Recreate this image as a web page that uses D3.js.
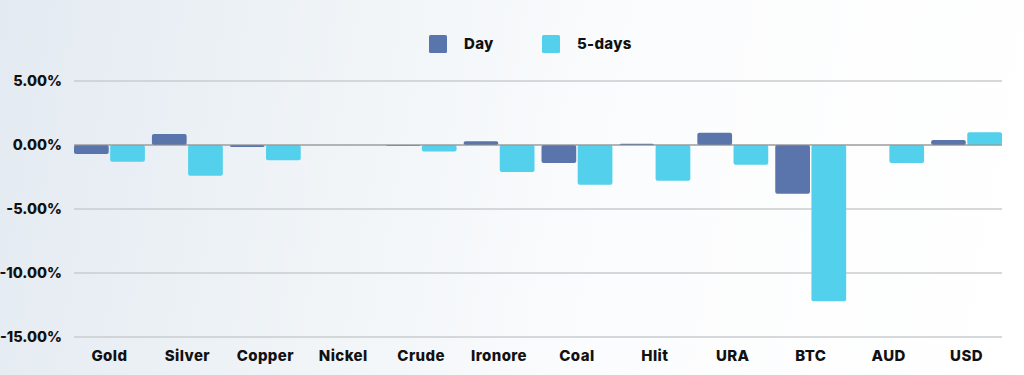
<!DOCTYPE html>
<html>
<head>
<meta charset="utf-8">
<script src="https://cdn.jsdelivr.net/npm/d3@7"></script>
<style>
  html, body { margin: 0; padding: 0; }
  body {
    width: 1024px;
    height: 375px;
    overflow: hidden;
    background: linear-gradient(100deg, #e3eaf1 0%, #f1f5f8 35%, #fbfcfd 60%, #ffffff 100%);
    font-family: Inter, "Noto Sans", sans-serif;
  }
</style>
</head>
<body>
<svg id="chart" width="1024" height="375"></svg>
<script>
const categories = ["Gold", "Silver", "Copper", "Nickel", "Crude", "Ironore", "Coal", "Hlit", "URA", "BTC", "AUD", "USD"];
const dayValues = [-0.7, 0.85, -0.15, 0, -0.05, 0.3, -1.4, 0.1, 0.95, -3.8, 0, 0.4];
const fiveDayValues = [-1.3, -2.4, -1.2, 0, -0.5, -2.1, -3.1, -2.8, -1.55, -12.2, -1.4, 1.0];
const seriesNames = ["Day", "5-days"];
const yTicks = [5, 0, -5, -10, -15];

const colors = ["#5a75ac", "#53d0eb"];

const svg = d3.select("#chart");
const margin = { left: 74, right: 22, top: 81, bottom: 38 };
const width = 1024, height = 375;

const x = d3.scaleBand()
  .domain(categories)
  .range([margin.left, width - margin.right])
  .paddingInner(0.09)
  .paddingOuter(0.0);

const xSub = d3.scaleBand()
  .domain(seriesNames)
  .range([0, x.bandwidth()])
  .paddingInner(0.04);

const y = d3.scaleLinear()
  .domain([-15, 5])
  .range([height - margin.bottom, margin.top]);

// gridlines
svg.append("g")
  .selectAll("line")
  .data(yTicks)
  .join("line")
  .attr("x1", margin.left)
  .attr("x2", width - margin.right)
  .attr("y1", d => y(d))
  .attr("y2", d => y(d))
  .attr("stroke", "#c9cccf")
  .attr("stroke-width", 1.3);

// y axis labels
svg.append("g")
  .selectAll("text")
  .data(yTicks)
  .join("text")
  .attr("x", 62)
  .attr("y", d => y(d))
  .attr("dy", "0.35em")
  .attr("text-anchor", "end")
  .attr("font-size", 14.5)
  .attr("font-weight", 800)
  .attr("fill", "#111")
  .text(d => d.toFixed(2) + "%");

// bars
const rows = categories.map((c, i) => ({ cat: c, vals: [dayValues[i], fiveDayValues[i]] }));

const groups = svg.append("g")
  .selectAll("g")
  .data(rows)
  .join("g")
  .attr("transform", d => `translate(${x(d.cat)},0)`);

groups.selectAll("rect")
  .data(d => d.vals.map((v, j) => ({ name: seriesNames[j], value: v, j })))
  .join("rect")
  .attr("x", d => xSub(d.name))
  .attr("width", xSub.bandwidth())
  .attr("y", d => y(Math.max(0, d.value)))
  .attr("height", d => Math.abs(y(d.value) - y(0)))
  .attr("rx", 2)
  .attr("fill", d => colors[d.j]);

// zero line on top
svg.append("line")
  .attr("x1", margin.left)
  .attr("x2", width - margin.right)
  .attr("y1", y(0))
  .attr("y2", y(0))
  .attr("stroke", "#8f8f8f")
  .attr("stroke-width", 1.2);

// x labels
svg.append("g")
  .selectAll("text")
  .data(categories)
  .join("text")
  .attr("x", d => x(d) + x.bandwidth() / 2)
  .attr("y", 356)
  .attr("dy", "0.35em")
  .attr("text-anchor", "middle")
  .attr("font-size", 15)
  .attr("font-weight", 800)
  .attr("letter-spacing", 0.4)
  .attr("fill", "#111")
  .text(d => d);

// legend
const legend = svg.append("g")
  .selectAll("g")
  .data(seriesNames)
  .join("g")
  .attr("transform", (d, i) => `translate(${i === 0 ? 429 : 542},35)`);

legend.append("rect")
  .attr("width", 18)
  .attr("height", 18)
  .attr("rx", 1.5)
  .attr("fill", (d, i) => colors[i]);

legend.append("text")
  .attr("x", 35)
  .attr("y", 9)
  .attr("dy", "0.35em")
  .attr("font-size", 15)
  .attr("font-weight", 800)
  .attr("letter-spacing", 0.3)
  .attr("fill", "#111")
  .text(d => d);
</script>
</body>
</html>
